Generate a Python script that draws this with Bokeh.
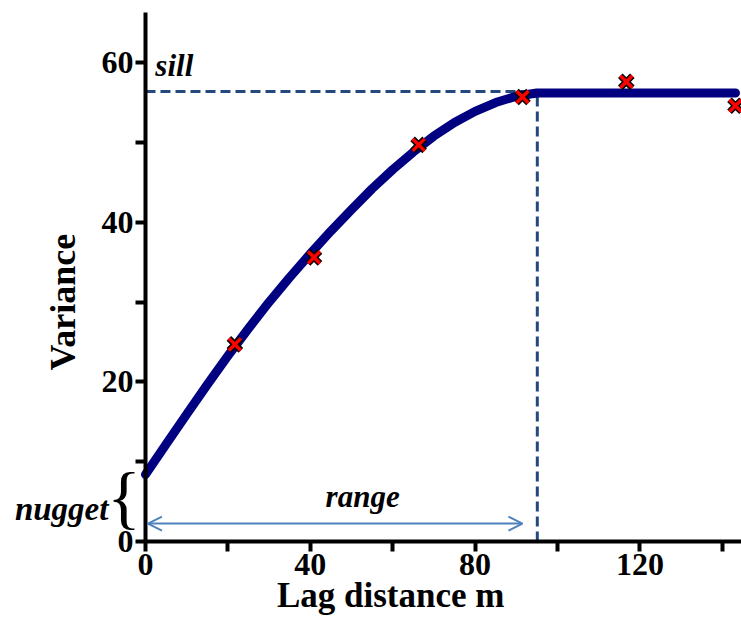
import math
from bokeh.plotting import figure
from bokeh.models import (Range1d, FixedTicker, Label, Arrow, OpenHead)
from bokeh.embed import file_html
from bokeh.resources import INLINE

# ---- data ----
lag = [21.7, 40.9, 66.3, 91.5, 116.7, 143.2]
semivariance = [24.7, 35.6, 49.7, 55.7, 57.6, 54.6]

model_lag = [0, 5, 10, 15, 20, 25, 30, 35, 40, 45, 50, 55, 60, 65, 70, 75, 80, 85, 90, 95, 143.2]
model_var = [8.4, 12.2, 15.95, 19.65, 23.25, 26.7, 30.0, 33.1, 36.05, 38.9, 41.6, 44.2,
             46.6, 48.8, 50.8, 52.5, 53.9, 55.0, 55.8, 56.2, 56.2]

sill = 56.4
range_m = 95.1

x_major = [0, 40, 80, 120]
x_minor = [20, 60, 100, 140]
y_major = [0, 20, 40, 60]
y_minor = [10, 30, 50]

x_title = "Lag distance m"
y_title = "Variance"
annotations = ["sill", "range", "nugget", "{"]

FONT = "Liberation Serif"

# the frame fills the canvas; the axes are pinned at 0 so that the
# annotations that sit left of / below the axes are not clipped
p = figure(width=741, height=617, output_backend="svg", toolbar_location=None,
           x_range=Range1d(-35.19, 144.66), y_range=Range1d(-9.52, 67.79),
           min_border_left=0, min_border_right=0, min_border_top=0,
           min_border_bottom=0)
p.outline_line_color = None
p.grid.visible = False
p.background_fill_color = "white"
p.border_fill_color = "white"

for ax, maj, mnr, bnds in ((p.xaxis[0], x_major, x_minor, (0, 144.66)),
                           (p.yaxis[0], y_major, y_minor, (0, 66.3))):
    ax.fixed_location = 0
    ax.bounds = bnds
    ax.ticker = FixedTicker(ticks=maj, minor_ticks=mnr)
    ax.axis_line_width = 4
    ax.axis_line_color = "black"
    ax.major_tick_line_width = 4
    ax.minor_tick_line_width = 4
    ax.major_tick_line_color = "black"
    ax.minor_tick_line_color = "black"
    ax.major_tick_out = 10
    ax.major_tick_in = 0
    ax.minor_tick_out = 10
    ax.minor_tick_in = 0
    ax.major_label_text_font = FONT
    ax.major_label_text_font_style = "bold"
    ax.major_label_text_font_size = "32px"
    ax.major_label_text_color = "black"
    ax.major_label_standoff = 2

# sill and range dashed guides
p.line([0, range_m], [sill, sill], line_color="#24497E", line_width=3, line_dash="10 5")
p.line([range_m, range_m], [0, sill], line_color="#24497E", line_width=3, line_dash="10 5")

# model curve
p.line(model_lag, model_var, line_color="#000080", line_width=9, line_cap="round",
       line_join="round")

# experimental points
p.scatter(lag, semivariance, marker="x", size=17, line_color="black", line_width=6.5)
p.scatter(lag, semivariance, marker="x", size=17, line_color="#FF0000", line_width=3.5)

# range arrow
p.add_layout(Arrow(x_start=0.6, y_start=2.25, x_end=91.5, y_end=2.25,
                   line_color="#4F81BD", line_width=2,
                   start=OpenHead(size=14, line_color="#4F81BD", line_width=2),
                   end=OpenHead(size=14, line_color="#4F81BD", line_width=2)))

# annotation texts
p.add_layout(Label(x=2.4, y=59.65, text=annotations[0], text_font=FONT,
                   text_font_style="bold italic", text_font_size="31px",
                   text_align="left", text_baseline="alphabetic", text_color="black"))
p.add_layout(Label(x=52.7, y=5.6, text=annotations[1], text_font=FONT,
                   text_font_style="bold italic", text_font_size="31px",
                   text_align="center", text_baseline="alphabetic", text_color="black"))
p.add_layout(Label(x=-9.0, y=4.1, text=annotations[2], text_font=FONT,
                   text_font_style="bold italic", text_font_size="33px",
                   text_align="right", text_baseline="alphabetic", text_color="black"))
p.add_layout(Label(x=-5.2, y=5.5, text=annotations[3], text_font=FONT,
                   text_font_size="70px",
                   text_align="center", text_baseline="middle", text_color="black"))

# axis titles
p.add_layout(Label(x=-20.1, y=30.0, text=y_title, text_font=FONT, text_font_style="bold",
                   text_font_size="36px", angle=math.pi / 2, text_align="center",
                   text_baseline="middle", text_color="black"))
p.add_layout(Label(x=59.5, y=-6.8, text=x_title, text_font=FONT, text_font_style="bold",
                   text_font_size="35px", text_align="center",
                   text_baseline="alphabetic", text_color="black"))

open("out.html", "w").write(file_html(p, INLINE))
